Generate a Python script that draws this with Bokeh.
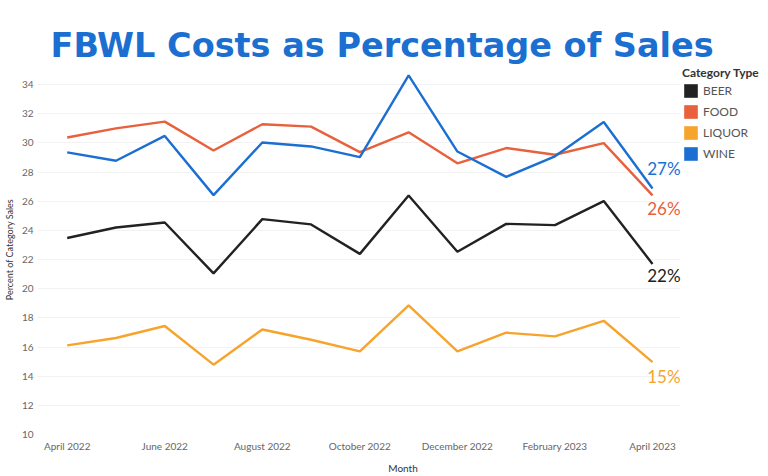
from bokeh.plotting import figure
from bokeh.models import FixedTicker, Legend, LegendItem, Title, ColumnDataSource, BoxAnnotation
from bokeh.core.properties import value
from bokeh.embed import file_html
from bokeh.resources import INLINE

months = ["April 2022", "May 2022", "June 2022", "July 2022", "August 2022", "September 2022",
          "October 2022", "November 2022", "December 2022", "January 2023", "February 2023",
          "March 2023", "April 2023"]
categories = ["BEER", "FOOD", "LIQUOR", "WINE"]
beer = [23.48, 24.2, 24.54, 21.05, 24.77, 24.41, 22.39, 26.4, 22.54, 24.45, 24.36, 26.01, 21.7]
food = [30.37, 31.0, 31.46, 29.48, 31.28, 31.12, 29.37, 30.73, 28.6, 29.65, 29.19, 29.99, 26.4]
liquor = [16.11, 16.62, 17.44, 14.79, 17.2, 16.5, 15.7, 18.85, 15.7, 16.98, 16.73, 17.8, 14.97]
wine = [29.35, 28.78, 30.48, 26.42, 30.03, 29.76, 29.03, 34.63, 29.41, 27.67, 29.08, 31.44, 26.88]
y_ticks = [10, 12, 14, 16, 18, 20, 22, 24, 26, 28, 30, 32, 34]
x_tick_idx = [0, 2, 4, 6, 8, 10, 12]

colors = ["#222222", "#E8603C", "#F6A42C", "#1B6FD2"]
label_dy = [12, 13, 14, -20]

series = [beer, food, liquor, wine]
xs = list(range(len(months)))

# plot area extends to the window edge; the grid stops at x = 12.574 (~680 px)
grid_end = 12.574
p = figure(width=768, height=476, output_backend="svg", toolbar_location=None,
           x_range=(-0.609, 14.378), y_range=(10, 35.38),
           min_border_left=37, min_border_right=0, min_border_top=64, min_border_bottom=39)
p.outline_line_color = None
p.background_fill_color = "white"

t = Title(text="FBWL Costs as Percentage of Sales", align="left",
          text_font="DejaVu Sans", text_font_size="33.5px", text_font_style="bold",
          text_color="#1B6FD0", offset=13, standoff=0)
p.add_layout(t, "above")

p.add_layout(BoxAnnotation(left=grid_end, fill_color="white", fill_alpha=1,
                           line_color=None, level="underlay"))

items = []
for name, vals, c, dy in zip(categories, series, colors, label_dy):
    src = ColumnDataSource(dict(x=xs, y=vals))
    p.line("x", "y", source=src, line_color=c, line_width=2.4)
    sw = p.rect("x", "y", width=0, height=0, source=src, fill_color=c, line_color=None)
    items.append(LegendItem(label=name, renderers=[sw]))
    last = vals[-1]
    p.text(x=[xs[-1]], y=[last], text=[f"{round(last)}%"], text_color=c,
           text_font=value("Lato"), text_font_size="17px", text_align="right",
           text_baseline="middle", x_offset=28, y_offset=dy)

legend = Legend(items=items, location=(645, 272), title="Category Type",
                title_text_font="Lato", title_text_font_size="12px",
                title_text_font_style="bold", title_text_color="#333333",
                label_text_font="Lato", label_text_font_size="12px",
                label_text_color="#555555", glyph_width=17, glyph_height=17,
                label_standoff=4, spacing=4, padding=0, margin=0,
                background_fill_alpha=0, border_line_color=None, title_standoff=2)
p.add_layout(legend)

p.xaxis.ticker = FixedTicker(ticks=x_tick_idx)
p.xaxis.major_label_overrides = {i: months[i] for i in x_tick_idx}
p.yaxis.ticker = FixedTicker(ticks=y_ticks)
for ax in (p.xaxis, p.yaxis):
    ax.axis_line_color = None
    ax.major_tick_line_color = None
    ax.minor_tick_line_color = None
    ax.major_tick_out = 0
    ax.major_tick_in = 0
    ax.minor_tick_out = 0
    ax.minor_tick_in = 0
    ax.major_label_text_font = "Lato"
    ax.major_label_text_color = "#666666"
    ax.axis_label_text_font = "Lato"
    ax.axis_label_text_font_style = "normal"
    ax.axis_label_text_color = "#333333"
p.xaxis.major_label_text_font_size = "10px"
p.yaxis.major_label_text_font_size = "10px"
p.xaxis.axis_label = "Month"
p.yaxis.axis_label = "Percent of Category Sales"
p.xaxis.axis_label_text_font_size = "10px"
p.yaxis.axis_label_text_font_size = "9px"
p.xaxis.major_label_standoff = 5
p.yaxis.major_label_standoff = 4
p.xaxis.axis_label_standoff = 7
p.yaxis.axis_label_standoff = 4
p.xgrid.grid_line_color = None
p.ygrid.grid_line_color = "#F2F2F2"
p.ygrid.ticker = FixedTicker(ticks=y_ticks)

open("out.html", "w").write(file_html(p, INLINE))
